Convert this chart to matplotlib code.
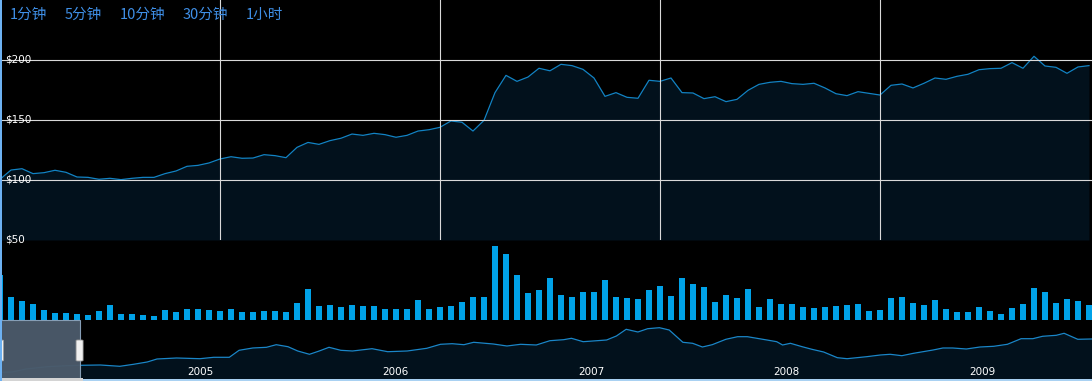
import numpy as np
import matplotlib
matplotlib.use("Agg")
import matplotlib.pyplot as plt
from matplotlib.patches import Rectangle, FancyBboxPatch
import matplotlib.transforms as mtransforms

# price series (one point per bar, ~100 periods)
close = [100.6, 108.3, 109.4, 105.3, 106.1, 108.1, 106.4, 102.5, 102.2, 100.6,
         101.4, 100.3, 101.4, 102.2, 102.2, 105.3, 107.5, 111.4, 112.2, 114.2,
         117.5, 119.4, 118.1, 118.3, 121.1, 120.3, 118.6, 127.2, 131.3, 129.7,
         132.8, 134.8, 138.3, 137.2, 138.9, 137.8, 135.6, 137.2, 140.8, 141.9,
         143.9, 149.2, 148.1, 140.8, 149.7, 172.8, 187.2, 182.2, 185.8, 193.1,
         191.0, 196.4, 195.3, 192.2, 185.0, 169.7, 172.8, 168.9, 168.1, 183.1,
         182.2, 185.0, 172.8, 172.5, 167.8, 169.4, 165.3, 167.2, 174.7, 179.7,
         181.4, 182.2, 180.3, 179.7, 180.6, 176.7, 171.9, 170.3, 173.6, 172.2,
         170.8, 178.9, 180.0, 176.7, 180.6, 185.0, 183.9, 186.4, 188.1, 191.9,
         192.8, 193.1, 197.8, 193.1, 203.1, 195.0, 193.9, 188.9, 194.2, 195.3]

volume = [45, 23, 18.7, 15.7, 9.7, 7.3, 6.7, 5.7, 5.3, 9.3,
          15.3, 5.7, 6.3, 5.3, 4.3, 10, 8.3, 11, 11, 9.7,
          9.3, 10.7, 8, 8, 9, 9.3, 7.7, 17.3, 30.7, 14,
          15.3, 13, 15, 13.7, 14.3, 11.3, 11, 11, 20, 10.7,
          13, 14, 18.3, 22.7, 23, 73.7, 65.7, 44.7, 26.7, 29.7,
          42.3, 24.7, 22.7, 27.7, 28.3, 39.7, 22.7, 22, 21, 30,
          33.7, 24, 41.7, 36.3, 32.7, 17.7, 25, 21.7, 30.7, 13,
          21.3, 15.7, 16, 12.7, 12, 13, 14.3, 15, 15.7, 9,
          10, 22.3, 23, 17.3, 14.7, 19.7, 11, 8, 8, 12.7,
          8.7, 6, 12, 16, 31.7, 27.7, 17, 21, 19.3, 15]

price_ticks = [50, 100, 150, 200]

# navigator series (decimal year, value)
nav_t = [2003.98, 2004.04, 2004.11, 2004.22, 2004.32, 2004.39, 2004.49, 2004.59, 2004.66, 2004.73,
         2004.78, 2004.88, 2005.00, 2005.07, 2005.15, 2005.20, 2005.27, 2005.34, 2005.39, 2005.45,
         2005.50, 2005.56, 2005.61, 2005.66, 2005.72, 2005.78, 2005.88, 2005.96, 2006.06, 2006.16,
         2006.23, 2006.29, 2006.35, 2006.40, 2006.50, 2006.57, 2006.64, 2006.72, 2006.79, 2006.86,
         2006.90, 2006.96, 2007.01, 2007.08, 2007.13, 2007.18, 2007.24, 2007.29, 2007.35, 2007.40,
         2007.47, 2007.52, 2007.57, 2007.62, 2007.69, 2007.75, 2007.80, 2007.90, 2007.95, 2007.98,
         2008.02, 2008.08, 2008.13, 2008.19, 2008.26, 2008.31, 2008.41, 2008.48, 2008.53, 2008.59,
         2008.65, 2008.75, 2008.80, 2008.85, 2008.92, 2008.99, 2009.06, 2009.13, 2009.20, 2009.26,
         2009.31, 2009.38, 2009.42, 2009.49, 2009.56]
nav_v = [7.7, 8, 11, 13.3, 14.3, 14.7, 15, 13.7, 15.7, 18,
         21, 22, 21.3, 22.7, 22.7, 29.7, 32, 32.7, 35.3, 33.3,
         29, 25.7, 29, 32.7, 29.7, 29, 31.3, 28.3, 29, 31.7,
         35.7, 36.3, 35.3, 37.7, 36, 34, 35.7, 35, 39.3, 40.3,
         41.7, 38.3, 39, 40, 44, 50.7, 48, 51.3, 52.3, 50,
         37.7, 36.7, 33, 35.3, 40.7, 43.3, 43.3, 40, 38.3, 35,
         36.7, 33.3, 30.7, 28, 22.3, 21.3, 23.3, 25, 25.7, 24.3,
         26.7, 30, 32, 32, 31, 33, 33.7, 35.7, 41.3, 41.3,
         43.7, 44.7, 46.7, 40.7, 41]
years = [2005, 2006, 2007, 2008, 2009]
sel_start, sel_end = 2003.977, 2004.384

buttons = ["1分钟", "5分钟", "10分钟", "30分钟", "1小时"]
button_x = [10, 65, 120, 183, 246]

W, H = 1092, 381
fig = plt.figure(figsize=(W / 100, H / 100), dpi=100, facecolor="black")

def px_axes(top, bottom):
    return fig.add_axes([0, 1 - bottom / H, 1, (bottom - top) / H])

x = np.arange(len(close))
xmax = W / 11

# price panel
ax = px_axes(0, 240)
ax.set_facecolor("black")
ax.fill_between(x, close, 50, color="#02111c", lw=0)
ax.plot(x, close, color="#1283c4", lw=0.9)
ax.set_xlim(0, xmax)
ax.set_ylim(50, 250)
for v in price_ticks[1:]:
    ax.axhline(v, color="#d9d9d9", lw=0.8)
for g in [20, 40, 60, 80]:
    ax.axvline(g, color="#d9d9d9", lw=0.8)
ax.set_xticks([])
ax.set_yticks([])
for s in ax.spines.values():
    s.set_visible(False)
trans = mtransforms.blended_transform_factory(fig.transFigure, ax.transData)
for v in price_ticks:
    ax.text(5 / W, v, "$%d" % v, transform=trans, color="white", fontsize=7.5,
            ha="left", va="center", clip_on=False, zorder=10)

for lbl, bx in zip(buttons, button_x):
    fig.text(bx / W, 1 - 15 / H, lbl, color="#3f8fe6", fontsize=10.5,
             family=["Noto Sans CJK SC", "DejaVu Sans"], ha="left", va="center")

# volume panel
axv = px_axes(240, 320)
axv.set_facecolor("none")
axv.bar(x, volume, width=0.58, color="#00a2e8", lw=0)
axv.set_xlim(0, xmax)
axv.set_ylim(0, 80)
axv.axis("off")

# navigator
axn = px_axes(320, 380)
axn.set_facecolor("black")
axn.fill_between(nav_t, nav_v, 0, color="#02111c", lw=0)
axn.plot(nav_t, nav_v, color="#1a86c8", lw=0.9)
axn.set_xlim(2003.977, 2003.977 + W / 195.5)
axn.set_ylim(0, 60)
axn.axis("off")
axn.add_patch(Rectangle((sel_start, 0), sel_end - sel_start, 60, facecolor="#4b5a6a",
                        edgecolor="#8aa3bb", lw=0.8, alpha=0.97, zorder=5, clip_on=False))
ntrans = mtransforms.blended_transform_factory(axn.transData, axn.transAxes)
for yr in years:
    axn.text(yr, 8 / 60, str(yr), transform=ntrans, color="white", fontsize=7.5,
             ha="center", va="center", zorder=6)
hw = 7 / 195.5
for hx in [sel_start, sel_end]:
    axn.add_patch(FancyBboxPatch((hx - hw / 2, 19), hw, 21,
                                 boxstyle="round,pad=0,rounding_size=0.01",
                                 mutation_aspect=60,
                                 facecolor="#f0f0f0", edgecolor="#9a9a9a", lw=0.6,
                                 zorder=7, clip_on=False))

# scrollbar + left border
fig.patches.append(Rectangle((0, 0), 1, 2 / H, transform=fig.transFigure,
                             facecolor="#a9d1f2", lw=0, zorder=8))
fig.patches.append(Rectangle((0, 0), 83 / W, 3 / H, transform=fig.transFigure,
                             facecolor="#d4d4d4", lw=0, zorder=9))
fig.patches.append(Rectangle((0, 0), 1.5 / W, 1, transform=fig.transFigure,
                             facecolor="#6db1f2", lw=0, zorder=9))

fig.savefig("out.png", dpi=100, facecolor="black")
